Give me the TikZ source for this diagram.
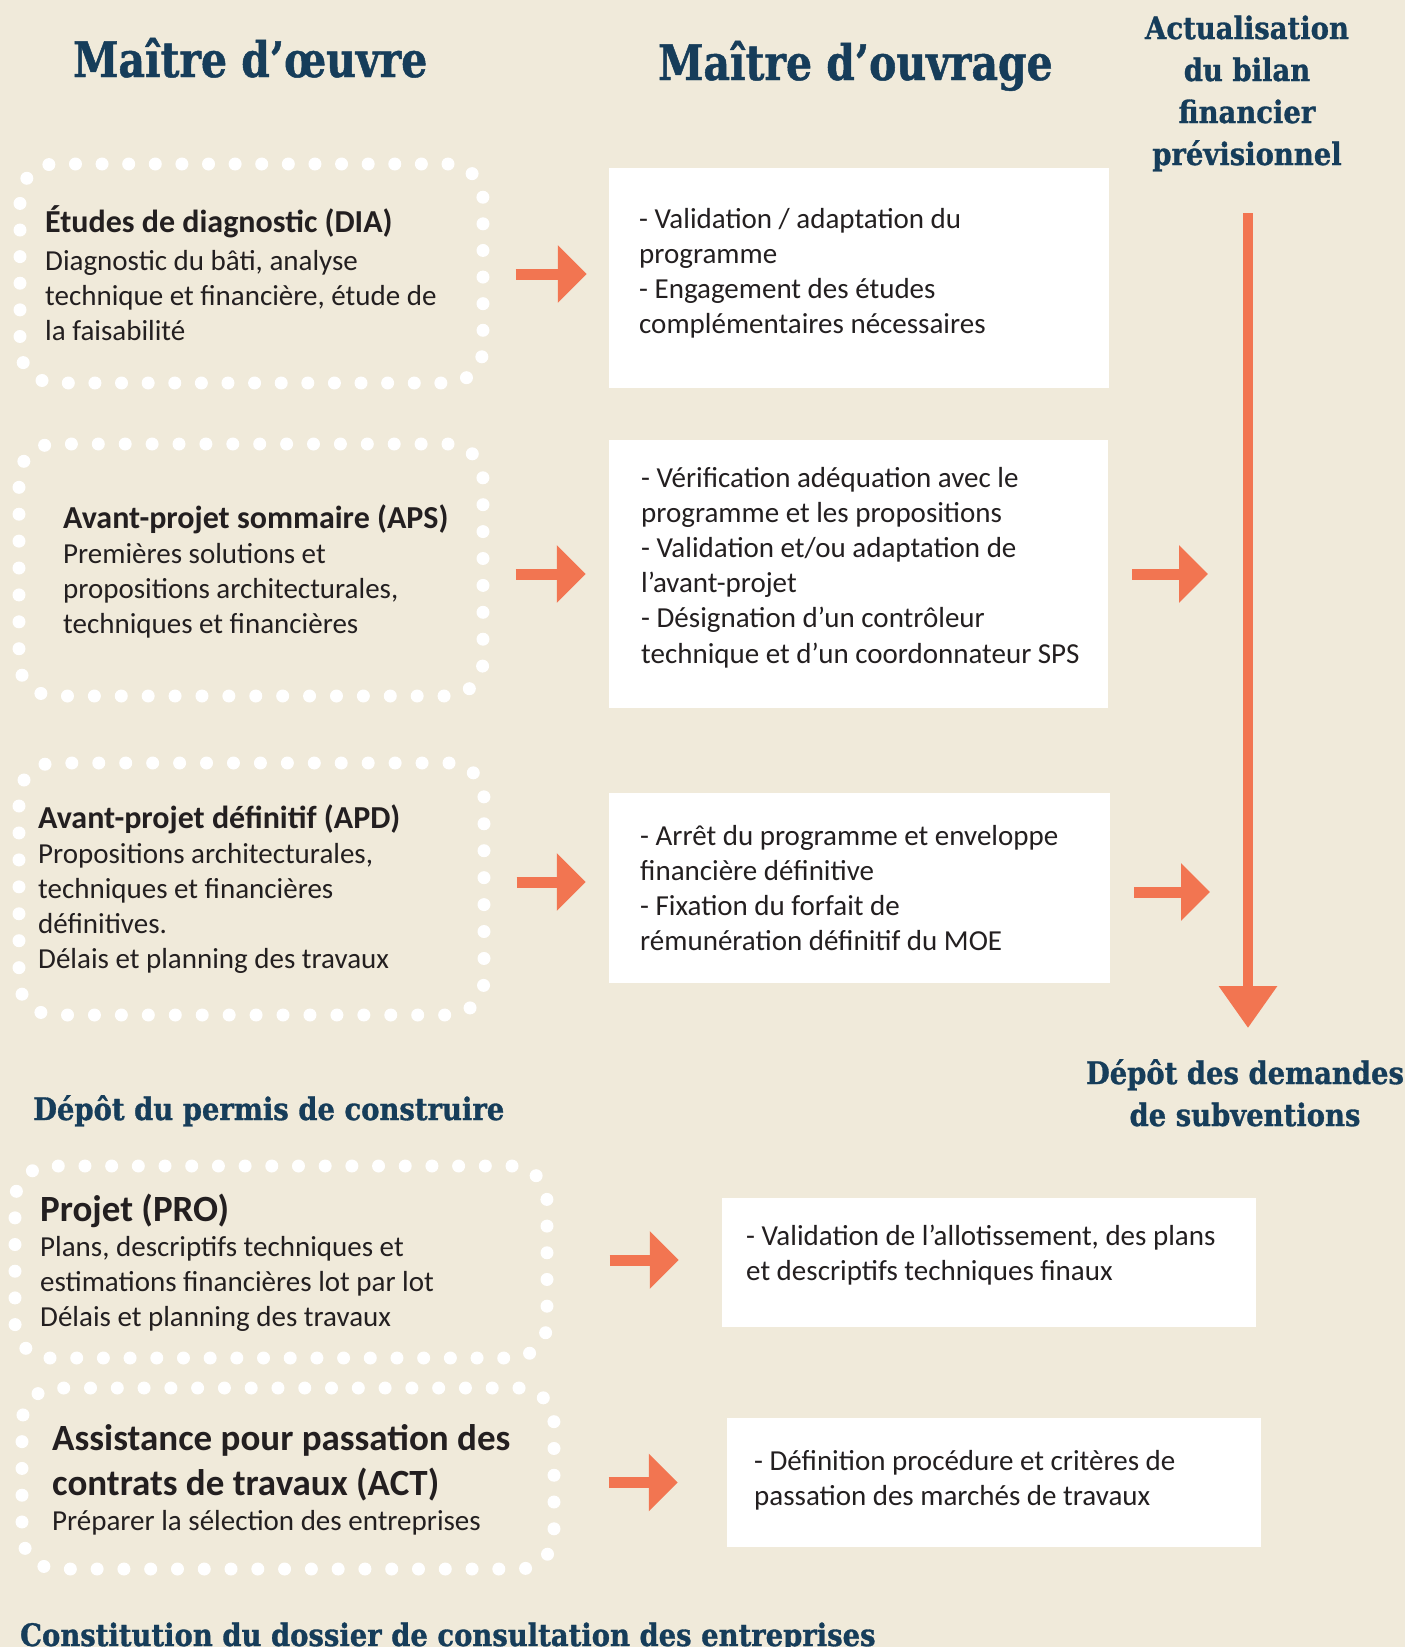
\documentclass[tikz,border=0pt]{standalone}
\usepackage{fontspec}
\setmainfont{Carlito}
\newfontfamily\titlefont[FakeStretch=0.835, FakeBold=1]{DejaVu Serif}
\newfontfamily\etapefont[FakeStretch=0.885, FakeBold=1]{DejaVu Serif}
\usetikzlibrary{arrows.meta}

\definecolor{creme}{HTML}{F0EADA}
\definecolor{marine}{HTML}{163D5A}
\definecolor{corail}{HTML}{F27551}
\definecolor{encre}{HTML}{231F20}

\newcommand{\tete}[1]{{\bfseries\fontsize{32}{35}\selectfont #1}}
\newcommand{\grandtete}[1]{{\bfseries\fontsize{37}{45}\selectfont #1}}

\tikzset{
  cadre/.style={draw=white, line width=13pt, line cap=round, dash pattern=on 0pt off #1, rounded corners=35pt, inner sep=0pt},
  boite/.style={fill=white, inner sep=0pt},
  texte/.style={anchor=base west, align=left, inner sep=0pt, text=encre, font=\fontsize{29}{35}\selectfont},
  titre/.style={anchor=base west, inner sep=0pt, text=marine, font=\titlefont\bfseries\fontsize{49}{58}\selectfont},
  etape/.style={inner sep=0pt, text=marine, align=center, font=\etapefont\bfseries\fontsize{31}{42}\selectfont},
  fleche/.style={draw=corail, line width=11pt, -{Triangle[length=29pt, width=56pt]}},
}

\begin{document}
\begin{tikzpicture}[x=1pt, y=-1pt]
  \fill[creme] (0,0) rectangle (1405,1647);
  \useasboundingbox (0,0) rectangle (1405,1647);

  % titres (ancre = ligne de base de la derniere ligne)
  \node[titre] (moe) at (73,77) {Maître d’œuvre};
  \node[titre] (mo) at (658,80) {Maître d’ouvrage};
  \node[etape, anchor=base] (bilan) at (1247,165) {Actualisation\\du bilan\\financier\\prévisionnel};
  \node[etape, anchor=base] (subv) at (1245,1126) {Dépôt des demandes\\de subventions};
  \node[etape, anchor=base west] (permis) at (33,1120) {Dépôt du permis de construire};
  \node[etape, anchor=base west] (dce) at (20,1646) {Constitution du dossier de consultation des entreprises};

  % cadres maitre d'oeuvre
  \node[cadre=26.61pt, minimum width=463pt, minimum height=219pt] (dia) at (251.5,273.5) {};
  \node[cadre=26.90pt, minimum width=464pt, minimum height=252pt] (aps) at (251,570) {};
  \node[cadre=26.94pt, minimum width=465pt, minimum height=252pt] (apd) at (251.5,889) {};
  \node[cadre=26.69pt, minimum width=532pt, minimum height=192pt] (pro) at (281,1262) {};
  \node[cadre=26.78pt, minimum width=532pt, minimum height=181pt] (act) at (288,1478.5) {};

  \node[texte] (dia txt) at (45,340) {\tete{Études de diagnostic (DIA)}\\[3pt]
    Diagnostic du bâti, analyse\\technique et financière, étude de\\la faisabilité};
  \node[texte] (aps txt) at (63,633.5) {\tete{Avant-projet sommaire (APS)}\\
    Premières solutions et\\propositions architecturales,\\techniques et financières};
  \node[texte] (apd txt) at (38,968) {\tete{Avant-projet définitif (APD)}\\
    Propositions architecturales,\\techniques et financières\\définitives.\\Délais et planning des travaux};
  \node[texte] (pro txt) at (40,1326) {\grandtete{Projet (PRO)}\\
    Plans, descriptifs techniques et\\estimations financières lot par lot\\Délais et planning des travaux};
  \node[texte] (act txt) at (52,1530) {\grandtete{Assistance pour passation des}\\[10pt]
    \grandtete{contrats de travaux (ACT)}\\
    Préparer la sélection des entreprises};

  % boites maitre d'ouvrage
  \node[boite, minimum width=500pt, minimum height=220pt] (val1) at (859,278) {};
  \node[boite, minimum width=499pt, minimum height=268pt] (val2) at (858.5,574) {};
  \node[boite, minimum width=501pt, minimum height=190pt] (val3) at (859.5,888) {};
  \node[boite, minimum width=534pt, minimum height=129pt] (val4) at (989,1262.5) {};
  \node[boite, minimum width=534pt, minimum height=129pt] (val5) at (994,1482.5) {};

  \node[texte] (val1 txt) at (639,333) {- Validation / adaptation du\\programme\\
    - Engagement des études\\complémentaires nécessaires};
  \node[texte] (val2 txt) at (641,663) {- Vérification adéquation avec le\\programme et les propositions\\
    - Validation et/ou adaptation de\\l’avant-projet\\- Désignation d’un contrôleur\\[1pt]
    technique et d’un coordonnateur SPS};
  \node[texte] (val3 txt) at (640,950) {- Arrêt du programme et enveloppe\\financière définitive\\
    - Fixation du forfait de\\rémunération définitif du MOE};
  \node[texte] (val4 txt) at (746,1280) {- Validation de l’allotissement, des plans\\et descriptifs techniques finaux};
  \node[texte] (val5 txt) at (754,1505) {- Définition procédure et critères de\\passation des marchés de travaux};

  % fleches
  \coordinate (bilan haut) at (1248,213);
  \coordinate (bilan bas) at (1248,1028);
  \draw[fleche, line width=10pt, -{Triangle[length=42pt, width=56pt]}] (bilan haut) -- (bilan bas);

  \draw[fleche, shorten <=26pt, shorten >=22pt] (dia.east |- 0,274) -- (val1.west |- 0,274);
  \draw[fleche, shorten <=26pt, shorten >=23pt] (aps.east |- val2.west) -- (val2.west);
  \draw[fleche, shorten <=26pt, shorten >=23pt] (apd.east |- 0,882) -- (val3.west |- 0,882);
  \draw[fleche, shorten <=56pt, shorten >=43pt] (pro.east |- 0,1260) -- (val4.west |- 0,1260);
  \draw[fleche, shorten <=48pt, shorten >=49pt] (act.east |- val5.west) -- (val5.west);
  \draw[fleche, shorten <=24pt, shorten >=40pt] (val2.east) -- (val2.east -| bilan haut);
  \draw[fleche, shorten <=24pt, shorten >=38pt] (val3.east |- 0,892) -- (bilan haut |- 0,892);
\end{tikzpicture}
\end{document}
